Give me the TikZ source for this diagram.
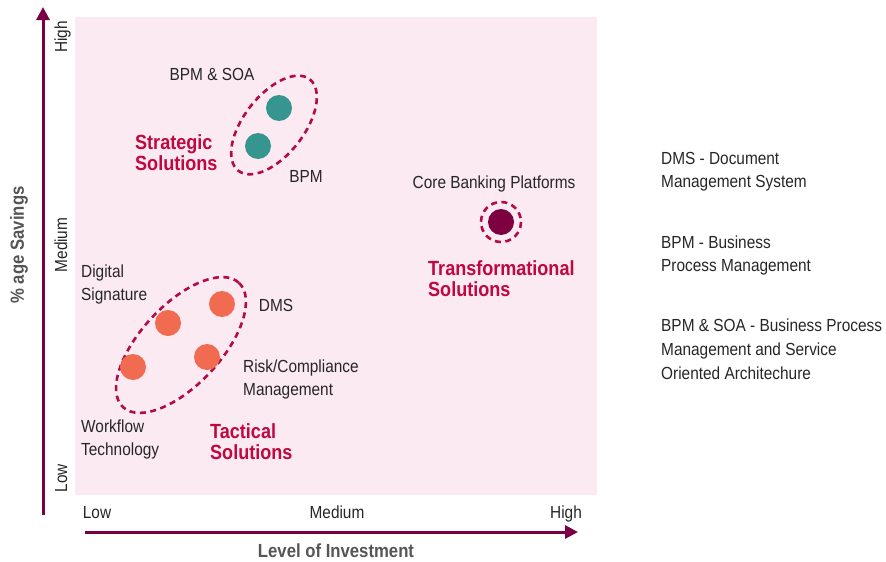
\documentclass[tikz,border=0pt]{standalone}
\usepackage{fontspec}
\setmainfont[FakeStretch=0.88]{Liberation Sans}
\usetikzlibrary{arrows.meta}
\definecolor{bgpink}{HTML}{FBEAF1}
\definecolor{axiscol}{HTML}{7B0041}
\definecolor{crim}{HTML}{C0073F}
\definecolor{darkgray}{HTML}{555555}
\definecolor{teal}{HTML}{36958F}
\definecolor{orng}{HTML}{F06B50}
\definecolor{coreco}{HTML}{7D0040}
\definecolor{dashcol}{HTML}{B30A48}
\tikzset{
  lbl/.style={font=\fontsize{17.5}{23}\selectfont, text=black!85, inner sep=0pt, align=left},
  axlbl/.style={font=\fontsize{17.5}{19}\selectfont, text=black!85, inner sep=0pt, anchor=base},
  grp/.style={font=\bfseries\fontsize{20.5}{21}\selectfont, text=crim, inner sep=0pt, align=left},
  axtitle/.style={font=\bfseries\fontsize{19}{20}\selectfont, text=darkgray, inner sep=0pt},
  dot/.style={circle, minimum size=26pt, inner sep=0pt},
  axisline/.style={draw=axiscol, line width=3pt, -{Triangle[length=13pt,width=13pt]}},
  grpline/.style={draw=dashcol, line width=2.6pt, dash pattern=on 6pt off 4.5pt}
}
\begin{document}
\begin{tikzpicture}[x=1pt,y=-1pt]
\useasboundingbox (0,0) rectangle (886,562);
\fill[bgpink] (75,17) rectangle (597,495);
% axes
\coordinate (ybot) at (43,515);
\coordinate (ytop) at (43,7);
\coordinate (xl) at (85,532);
\coordinate (xr) at (578,532);
\draw[axisline] (ybot) -- (ytop);
\draw[axisline] (xl) -- (xr);
\node[axlbl, rotate=90] (yhigh) at (67,37) {High};
\node[axlbl, rotate=90] (ymed) at (67,245) {Medium};
\node[axlbl, rotate=90] (ylow) at (67,478) {Low};
\node[axtitle, rotate=90] (ytitle) at (19,245) {\% age Savings};
\node[axlbl] (xlow) at (97,518) {Low};
\node[axlbl] (xmed) at (337,518) {Medium};
\node[axlbl] (xhigh) at (566,518) {High};
\node[axtitle] (xtitle) at (336,551) {Level of Investment};
% strategic
\draw[grpline, rotate around={52:(274,125)}] (274,125) ellipse (58 and 30);
\node[dot, fill=teal] (soa) at (279,108) {};
\node[dot, fill=teal] (bpm) at (258,146) {};
\node[lbl] (soal) at (212,74) {BPM \& SOA};
\node[lbl] (bpml) at (306,176) {BPM};
\node[grp, anchor=west] (strat) at (135,153) {Strategic\\Solutions};
% transformational
\draw[grpline] (501,222) circle (20);
\node[dot, fill=coreco] (core) at (501,222) {};
\node[lbl] (corel) at (494,184) {Core Banking Platforms};
\node[grp, anchor=west] (trans) at (428,279) {Transformational\\Solutions};
% tactical
\draw[grpline, rotate around={47:(181,345)}] (181,345) ellipse (85 and 40);
\node[dot, fill=orng] (wf) at (133,367) {};
\node[dot, fill=orng] (dig) at (168,323) {};
\node[dot, fill=orng] (dms) at (222,304) {};
\node[dot, fill=orng] (risk) at (207,357) {};
\node[lbl, anchor=west] (digl) at (81,284) {Digital\\Signature};
\node[lbl] (dmsl) at (276,305) {DMS};
\node[lbl, anchor=west] (riskl) at (243,379) {Risk/Compliance\\Management};
\node[lbl, anchor=west] (wfl) at (81,439) {Workflow\\Technology};
\node[grp, anchor=west] (tact) at (210,442) {Tactical\\Solutions};
% legend
\node[lbl, anchor=west] (leg1) at (661,172) {DMS - Document\\Management System};
\node[lbl, anchor=west] (leg2) at (661,255) {BPM - Business\\Process Management};
\node[lbl, anchor=west, font=\fontsize{17.5}{24}\selectfont] (leg3) at (661,349) {BPM \& SOA - Business Process\\Management and Service\\Oriented Architechure};
\end{tikzpicture}
\end{document}
